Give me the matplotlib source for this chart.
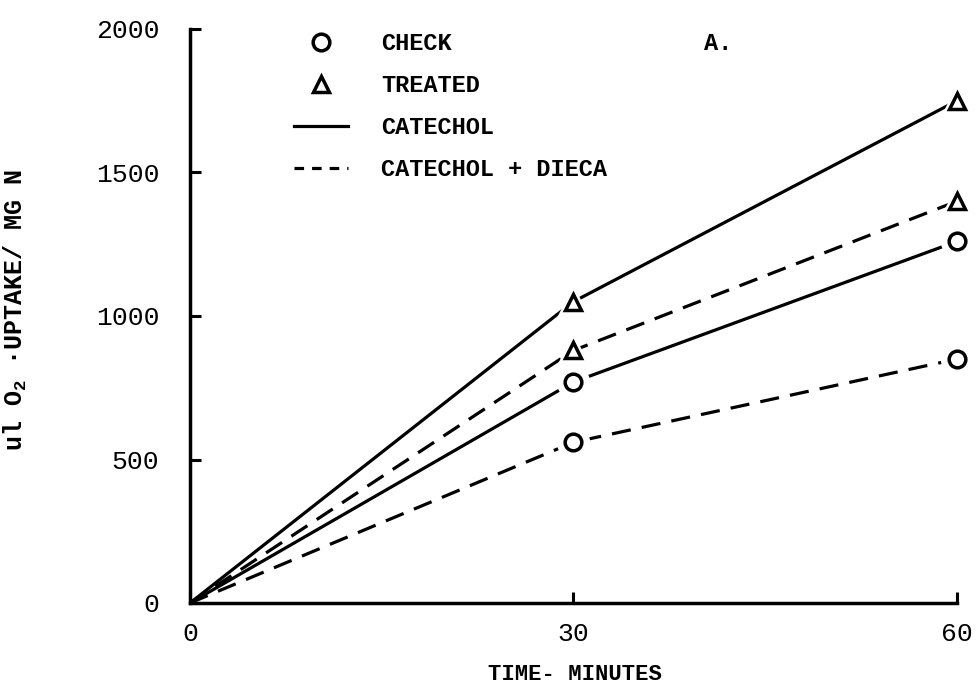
import matplotlib
matplotlib.use("Agg")
import matplotlib.pyplot as plt
from matplotlib.lines import Line2D

# values (ul O2 uptake / mg N)
minutes = [0, 30, 60]
check_catechol = [0, 770, 1260]
check_dieca = [0, 560, 850]
treated_catechol = [0, 1050, 1750]
treated_dieca = [0, 880, 1400]

x_ticks = [0, 30, 60]
y_ticks = [0, 500, 1000, 1500, 2000]

plt.rcParams['font.family'] = ['Liberation Mono', 'DejaVu Sans']
plt.rcParams['mathtext.fontset'] = 'custom'
plt.rcParams['mathtext.rm'] = 'Liberation Mono'
plt.rcParams['mathtext.bf'] = 'Liberation Mono:bold'

fig = plt.figure(figsize=(9.78, 6.89), dpi=100)
ax = fig.add_axes([190 / 978, 86 / 689, 767 / 978, 574 / 689])

lw = 2.3
dash = (0, (6, 3.5))

series = [
    (treated_catechol, '^', '-'),
    (treated_dieca, '^', dash),
    (check_catechol, 'o', '-'),
    (check_dieca, 'o', dash),
]
for vals, mk, ls in series:
    ax.plot(minutes, vals, color='black', lw=lw, linestyle=ls, zorder=2,
            solid_capstyle='butt', dash_capstyle='butt')
    # white halo so the lines stop short of the symbols, like the typed original
    ax.plot(minutes[1:], vals[1:], linestyle='none', marker=mk, ms=23,
            mfc='white', mec='white', zorder=3, clip_on=False)
    ax.plot(minutes[1:], vals[1:], linestyle='none', marker=mk, ms=12,
            mfc='white', mec='black', mew=2.5, zorder=4, clip_on=False)

ax.set_xlim(0, 60)
ax.set_ylim(0, 2000)
ax.set_xticks(x_ticks)
ax.set_yticks(y_ticks)
ax.spines['top'].set_visible(False)
ax.spines['right'].set_visible(False)
ax.spines['left'].set_linewidth(2.5)
ax.spines['bottom'].set_linewidth(2.5)
ax.tick_params(axis='both', direction='in', length=8, width=2.2,
               labelsize=19)
ax.tick_params(axis='y', pad=22)
ax.tick_params(axis='x', pad=14)

ax.set_ylabel(r"ul O$\mathbf{_2}$ ·UPTAKE/ MG N", fontsize=18,
              fontweight='bold')
ax.yaxis.set_label_coords(-0.21, 0.51)
ax.set_xlabel("TIME- MINUTES", fontsize=16, fontweight='bold')
ax.xaxis.set_label_coords(0.502, -0.106)

handles = [
    Line2D([], [], color='black', marker='o', ls='none', ms=12, mfc='white', mew=2.5),
    Line2D([], [], color='black', marker='^', ls='none', ms=12, mfc='white', mew=2.5),
    Line2D([], [], color='black', lw=lw),
    Line2D([], [], color='black', lw=lw, linestyle=(0, (3, 2.5))),
]
labels = ["CHECK", "TREATED", "CATECHOL", "CATECHOL + DIECA"]
ax.legend(handles, labels, loc='upper left', bbox_to_anchor=(0.12, 1.015),
          frameon=False, borderpad=0, handlelength=2.3, handletextpad=1.4,
          labelspacing=0.8, numpoints=1,
          prop={'family': 'Liberation Mono', 'weight': 'bold', 'size': 17})

ax.text(0.67, 0.974, "A.", transform=ax.transAxes, fontsize=17,
        fontweight='bold', va='center', ha='left')

fig.savefig("out.png", dpi=100)
